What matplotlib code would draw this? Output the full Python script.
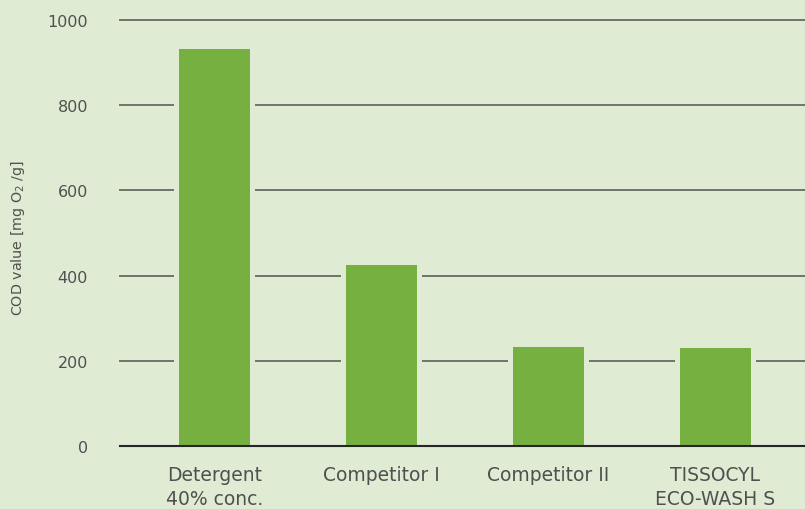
import matplotlib
matplotlib.use("Agg")
import matplotlib.pyplot as plt

categories = ["Detergent\n40% conc.", "Competitor I", "Competitor II", "TISSOCYL\nECO-WASH S"]
values = [932, 425, 232, 230]
yticks = [0, 200, 400, 600, 800, 1000]

bg = "#e0ebd4"
bar_color = "#76b041"
text_color = "#505050"

plt.rcParams['font.family'] = ['DejaVu Sans']

fig = plt.figure(figsize=(8.05, 5.10), dpi=100, facecolor=bg)
ax = fig.add_axes([120/805, 1-447/510, 1-120/805, (447-21)/510])
ax.set_facecolor(bg)

x = list(range(len(categories)))
# background-coloured halo behind bars to break the gridlines
ax.bar(x, values, width=0.49, color=bg, linewidth=0, zorder=2)
ax.bar(x, values, width=0.425, color=bar_color, linewidth=0, zorder=3)

for t in yticks[1:]:
    ax.axhline(t, color="#6e736c", linewidth=1.4, zorder=1, clip_on=False)
ax.axhline(0, color="#262626", linewidth=1.5, zorder=4, clip_on=False)

ax.set_xlim(-0.566, 3.536)
ax.set_ylim(0, 1000)
ax.set_yticks(yticks)
ax.set_yticklabels([str(t) for t in yticks], fontsize=11.5, color=text_color)
ax.set_xticks(x)
ax.set_xticklabels(categories, fontsize=13.5, color=text_color, linespacing=1.3)
ax.tick_params(axis='y', length=0, pad=23)
ax.tick_params(axis='x', length=0, pad=14)
for s in ax.spines.values():
    s.set_visible(False)

fig.text(18/805, 1-238/510, "COD value [mg O$_2$ /g]", rotation=90, fontsize=10.3,
         color=text_color, ha='center', va='center')

fig.savefig("out.png", dpi=100, facecolor=bg)
